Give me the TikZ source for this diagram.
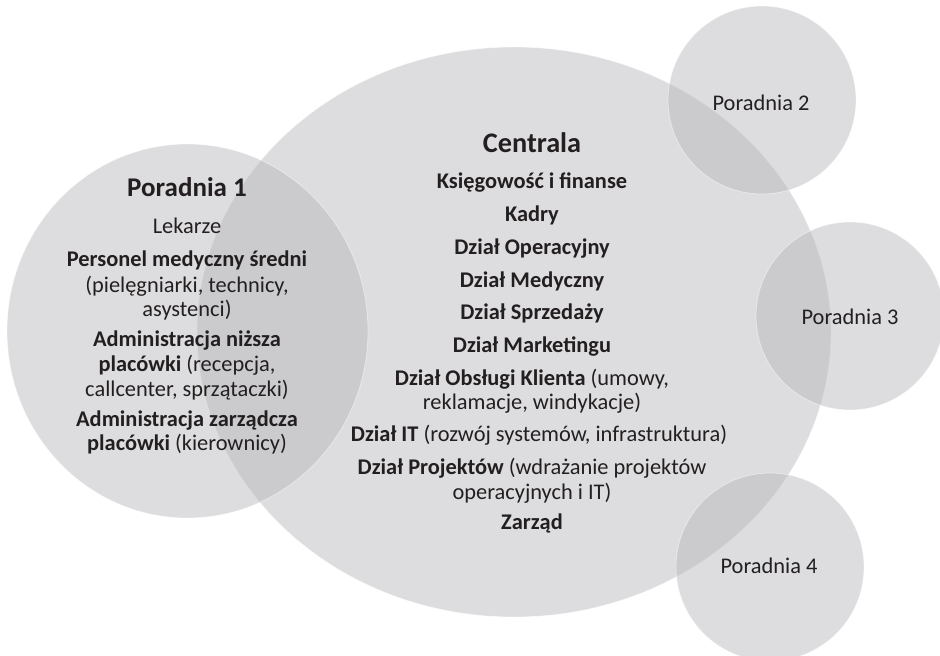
\documentclass[tikz,border=0pt]{standalone}
\usepackage{fontspec}
\setmainfont{Carlito}
\definecolor{ink}{RGB}{35,31,32}
\definecolor{disc}{RGB}{183,183,186}
\begin{document}
\begin{tikzpicture}[x=1pt,y=-1pt,
  blob/.style={fill=disc, fill opacity=0.47, draw=white, draw opacity=0.45, line width=0.8pt},
  txt/.style={anchor=base, inner sep=0pt, text=ink, font=\fontsize{22.4}{26}\selectfont},
  head/.style={anchor=base, inner sep=0pt, text=ink, font=\bfseries\fontsize{27}{31}\selectfont}]
\useasboundingbox (0,0) rectangle (940,656);

% translucent discs: head office and the four clinics
\draw[blob] (514,332) ellipse [x radius=317, y radius=285];
\draw[blob] (187.5,331) ellipse [x radius=180.5, y radius=187];
\draw[blob] (762,100) circle [radius=94];
\draw[blob] (850,316) circle [radius=94];
\draw[blob] (770,567) circle [radius=94];

% clinic 1
\node[head] (p1) at (187,196) {Poradnia 1};
\foreach \y/\t [count=\i] in {
  233/{Lekarze},
  266/{\textbf{Personel medyczny średni}},
  292/{(pielęgniarki, technicy,},
  316/{asystenci)},
  346/{\textbf{Administracja niższa}},
  371/{\textbf{placówki} (recepcja,},
  396/{callcenter, sprzątaczki)},
  426/{\textbf{Administracja zarządcza}},
  450/{\textbf{placówki} (kierownicy)}}
  \node[txt] (p1l\i) at (187,\y) {\t};

% head office
\node[head, font=\bfseries\fontsize{28.3}{32}\selectfont] (ce) at (532,152) {Centrala};
\foreach \y/\t [count=\i] in {
  188/{\textbf{Księgowość i finanse}},
  221/{\textbf{Kadry}},
  254/{\textbf{Dział Operacyjny}},
  287/{\textbf{Dział Medyczny}},
  319/{\textbf{Dział Sprzedaży}},
  352/{\textbf{Dział Marketingu}},
  385/{\textbf{Dział Obsługi Klienta} (umowy,},
  409/{reklamacje, windykacje)},
  474/{\textbf{Dział Projektów} (wdrażanie projektów},
  499/{operacyjnych i IT)},
  529/{\textbf{Zarząd}}}
  \node[txt] (cel\i) at (532,\y) {\t};
\node[txt] (ceit) at (539,441) {\textbf{Dział IT} (rozwój systemów, infrastruktura)};

% other clinics
\node[txt] (p2) at (761,110) {Poradnia 2};
\node[txt] (p3) at (850,324) {Poradnia 3};
\node[txt] (p4) at (769,573) {Poradnia 4};
\end{tikzpicture}
\end{document}
